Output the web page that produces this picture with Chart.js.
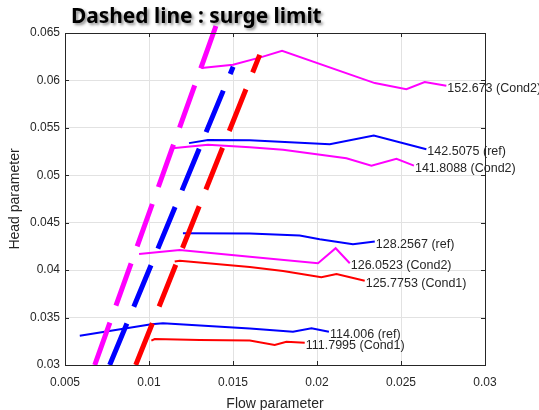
<!DOCTYPE html>
<html>
<head>
<meta charset="utf-8">
<script src="https://cdn.jsdelivr.net/npm/chart.js@4.4.0/dist/chart.umd.min.js"></script>
<style>
  html, body { margin: 0; padding: 0; background: #fff; }
  #wrap { width: 539px; height: 410px; }
</style>
</head>
<body>
<div id="wrap"><canvas id="chart" width="539" height="410"></canvas></div>
<script>
// axes
const xTicks = [0.005, 0.01, 0.015, 0.02, 0.025, 0.03];
const xTickLabels = ['0.005', '0.01', '0.015', '0.02', '0.025', '0.03'];
const yTicks = [0.03, 0.035, 0.04, 0.045, 0.05, 0.055, 0.06, 0.065];
const yTickLabels = ['0.03', '0.035', '0.04', '0.045', '0.05', '0.055', '0.06', '0.065'];

// surge limit lines (dashed)
const surgeCond2X = [0.00677, 0.01401];
const surgeCond2Y = [0.03, 0.06587];
const surgeRefX = [0.00766, 0.01501];
const surgeRefY = [0.03, 0.06144];
const surgeCond1X = [0.00921, 0.01659];
const surgeCond1Y = [0.03, 0.0627];

// speed lines
const cond2_152X = [0.01312, 0.0150, 0.01669, 0.01792, 0.02344, 0.02532, 0.02641, 0.02770];
const cond2_152Y = [0.06130, 0.06165, 0.06246, 0.06312, 0.05972, 0.05908, 0.05982, 0.05943];
const ref_142X = [0.01238, 0.01351, 0.0160, 0.02076, 0.02338, 0.02651];
const ref_142Y = [0.05339, 0.05373, 0.05370, 0.05328, 0.05419, 0.05275];
const cond2_141X = [0.01139, 0.01351, 0.0160, 0.01798, 0.02175, 0.02324, 0.02473, 0.02577];
const cond2_141Y = [0.05286, 0.05321, 0.05296, 0.05268, 0.05180, 0.05102, 0.05173, 0.05102];
const ref_128X = [0.01202, 0.0160, 0.01897, 0.02016, 0.02214, 0.02344];
const ref_128Y = [0.04389, 0.04386, 0.04364, 0.04326, 0.04273, 0.04301];
const cond2_126X = [0.00941, 0.01183, 0.0160, 0.02006, 0.02111, 0.02195];
const cond2_126Y = [0.04171, 0.04213, 0.04142, 0.04073, 0.04231, 0.04073];
const cond1_125X = [0.01153, 0.01183, 0.0160, 0.01798, 0.02026, 0.02116, 0.02284];
const cond1_125Y = [0.04090, 0.04100, 0.04034, 0.03992, 0.03925, 0.03960, 0.03889];
const ref_114X = [0.00588, 0.01014, 0.01083, 0.0160, 0.01857, 0.01967, 0.02071];
const ref_114Y = [0.03309, 0.03429, 0.03440, 0.03385, 0.03351, 0.03387, 0.03351];
const cond1_111X = [0.01014, 0.01034, 0.01302, 0.0160, 0.01748, 0.01818, 0.01927];
const cond1_111Y = [0.03256, 0.03274, 0.03263, 0.03258, 0.03211, 0.03246, 0.03235];

const MAGENTA = '#ff00ff';
const BLUE = '#0000ff';
const RED = '#ff0000';
const TEXT = '#262626';

function pts(xs, ys) {
    return xs.map((x, i) => ({ x: x, y: ys[i] }));
}

function speedLine(xs, ys, color, label) {
    return {
        data: pts(xs, ys),
        borderColor: color,
        borderWidth: 2,
        pointRadius: 0,
        tension: 0,
        order: 1,
        endLabel: label
    };
}

function surgeLine(xs, ys, color) {
    return {
        data: pts(xs, ys),
        borderColor: color,
        borderWidth: 5,
        borderDash: [45, 18],
        pointRadius: 0,
        order: 0,
        clip: { left: 0, right: 0, bottom: 0, top: false }
    };
}

const datasets = [
    surgeLine(surgeCond2X, surgeCond2Y, MAGENTA),
    surgeLine(surgeRefX, surgeRefY, BLUE),
    surgeLine(surgeCond1X, surgeCond1Y, RED),
    speedLine(cond2_152X, cond2_152Y, MAGENTA, '152.673 (Cond2)'),
    speedLine(ref_142X, ref_142Y, BLUE, '142.5075 (ref)'),
    speedLine(cond2_141X, cond2_141Y, MAGENTA, '141.8088 (Cond2)'),
    speedLine(ref_128X, ref_128Y, BLUE, '128.2567 (ref)'),
    speedLine(cond2_126X, cond2_126Y, MAGENTA, '126.0523 (Cond2)'),
    speedLine(cond1_125X, cond1_125Y, RED, '125.7753 (Cond1)'),
    speedLine(ref_114X, ref_114Y, BLUE, '114.006 (ref)'),
    speedLine(cond1_111X, cond1_111Y, RED, '111.7995 (Cond1)')
];

// box, inward ticks, end labels, titles
const decorPlugin = {
    id: 'decor',
    afterDraw(chart) {
        const ctx = chart.ctx;
        const a = chart.chartArea;
        const xs = chart.scales.x;
        const ys = chart.scales.y;

        ctx.save();
        ctx.strokeStyle = TEXT;
        ctx.lineWidth = 1;
        ctx.strokeRect(Math.round(a.left) + 0.5, Math.round(a.top) + 0.5,
            Math.round(a.right - a.left), Math.round(a.bottom - a.top));
        ctx.beginPath();
        xTicks.forEach(v => {
            const px = Math.round(xs.getPixelForValue(v)) + 0.5;
            ctx.moveTo(px, a.bottom); ctx.lineTo(px, a.bottom - 4);
            ctx.moveTo(px, a.top); ctx.lineTo(px, a.top + 4);
        });
        yTicks.forEach(v => {
            const py = Math.round(ys.getPixelForValue(v)) + 0.5;
            ctx.moveTo(a.left, py); ctx.lineTo(a.left + 4, py);
            ctx.moveTo(a.right, py); ctx.lineTo(a.right - 4, py);
        });
        ctx.stroke();

        // labels at the end of each speed line
        ctx.fillStyle = TEXT;
        ctx.font = '12.5px "Liberation Sans", Arial, sans-serif';
        ctx.textAlign = 'left';
        ctx.textBaseline = 'middle';
        chart.data.datasets.forEach(ds => {
            if (!ds.endLabel) return;
            const last = ds.data[ds.data.length - 1];
            ctx.fillText(ds.endLabel, xs.getPixelForValue(last.x) + 1, ys.getPixelForValue(last.y) + 2.5);
        });

        // axis titles
        ctx.font = '14px "Liberation Sans", Arial, sans-serif';
        ctx.textAlign = 'center';
        ctx.fillText('Flow parameter', (a.left + a.right) / 2, 404);
        ctx.save();
        ctx.translate(15, (a.top + a.bottom) / 2);
        ctx.rotate(-Math.PI / 2);
        ctx.fillText('Head parameter', 0, 0);
        ctx.restore();

        // title with drop shadow
        const title = 'Dashed line : surge limit';
        let size = 20;
        ctx.font = 'bold ' + size + 'px "Noto Sans", sans-serif';
        size = size * 251 / ctx.measureText(title).width;
        ctx.font = 'bold ' + size.toFixed(1) + 'px "Noto Sans", sans-serif';
        ctx.textAlign = 'left';
        ctx.textBaseline = 'middle';
        ctx.shadowColor = 'rgba(0,0,0,0.45)';
        ctx.shadowBlur = 3;
        ctx.shadowOffsetX = 2;
        ctx.shadowOffsetY = 2;
        ctx.fillStyle = '#000';
        ctx.fillText(title, 71, 17);
        ctx.restore();
    }
};

new Chart(document.getElementById('chart'), {
    type: 'line',
    data: { datasets: datasets },
    options: {
        responsive: false,
        animation: false,
        devicePixelRatio: 1,
        layout: { padding: { top: 33, right: 54, left: 0, bottom: 0 } },
        plugins: {
            legend: { display: false },
            tooltip: { enabled: false }
        },
        scales: {
            x: {
                type: 'linear',
                min: 0.005,
                max: 0.03,
                afterBuildTicks: s => { s.ticks = xTicks.map(v => ({ value: v })); },
                afterFit: s => { s.height = 45; },
                grid: { color: '#e2e2e2', drawTicks: false },
                border: { display: false },
                ticks: {
                    padding: 10,
                    color: TEXT,
                    font: { family: '"Liberation Sans", Arial, sans-serif', size: 12 },
                    maxRotation: 0,
                    callback: (v, i) => xTickLabels[i]
                }
            },
            y: {
                type: 'linear',
                min: 0.03,
                max: 0.065,
                afterBuildTicks: s => { s.ticks = yTicks.map(v => ({ value: v })); },
                afterFit: s => { s.width = 65; },
                grid: { color: '#e2e2e2', drawTicks: false },
                border: { display: false },
                ticks: {
                    padding: 5,
                    color: TEXT,
                    font: { family: '"Liberation Sans", Arial, sans-serif', size: 12 },
                    callback: (v, i) => yTickLabels[i]
                }
            }
        }
    },
    plugins: [decorPlugin]
});
</script>
</body>
</html>
